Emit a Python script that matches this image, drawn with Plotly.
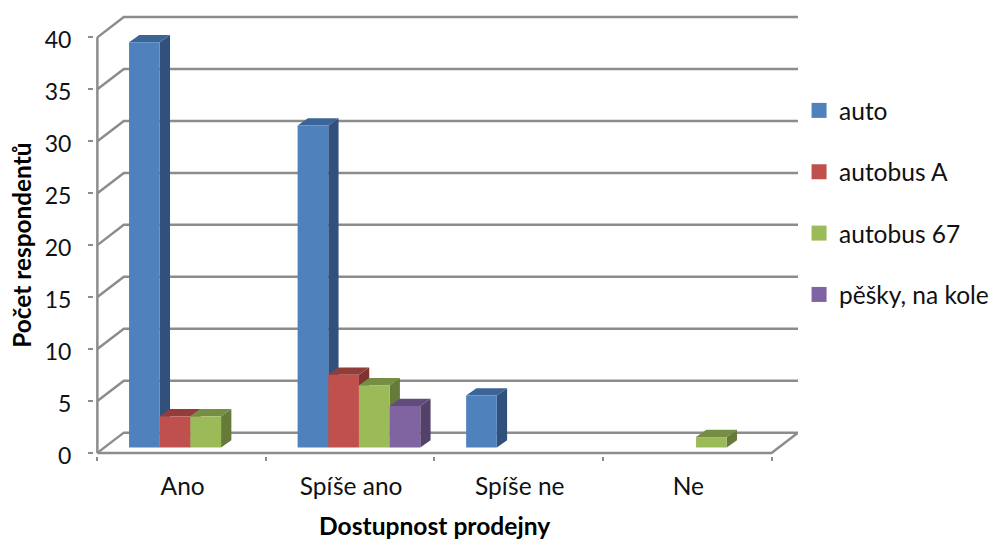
import plotly.graph_objects as go

categories = ["Ano", "Spíše ano", "Spíše ne", "Ne"]
auto = [39, 31, 5, 0]
autobus_a = [3, 7, 0, 0]
autobus_67 = [3, 6, 0, 1]
pesky = [0, 4, 0, 0]
y_ticks = [0, 5, 10, 15, 20, 25, 30, 35, 40]

series = [
    ("auto", auto, "#4F81BD", "#3C6597", "#31507C"),
    ("autobus A", autobus_a, "#C0504D", "#933D3B", "#7F3331"),
    ("autobus 67", autobus_67, "#9BBB59", "#768E44", "#667B3A"),
    ("pěšky, na kole", pesky, "#8064A2", "#614C7B", "#524168"),
]

FONT = "Lato"
GRID = "#8C8C8C"
WALL_DX, WALL_DY = 0.157, 1.95
BAR_START, BAR_W = 0.188, 0.182
BAR_BASE = 0.52
BAR_DX, BAR_DY = 0.061, 0.70
N = len(categories)

fig = go.Figure()


def line(xs, ys):
    fig.add_trace(go.Scatter(x=xs, y=ys, mode="lines", showlegend=False, hoverinfo="skip",
                             line=dict(color=GRID, width=2.5)))


for v in y_ticks:
    line([0, WALL_DX, N + WALL_DX], [v, v + WALL_DY, v + WALL_DY])
line([0, 0], [0, y_ticks[-1]])
line([0, N, N + WALL_DX], [0, 0, WALL_DY])

z = 1
for s_i, (name, vals, front, top, side) in enumerate(series):
    xs_top, ys_top, xs_side, ys_side, bx, by = [], [], [], [], [], []
    for c_i, v in enumerate(vals):
        if v <= 0:
            continue
        x0 = c_i + BAR_START + s_i * BAR_W
        x1 = x0 + BAR_W
        y0 = BAR_BASE
        y1 = BAR_BASE + v
        xs_top += [x0, x1, x1 + BAR_DX, x0 + BAR_DX, x0, None]
        ys_top += [y1, y1, y1 + BAR_DY, y1 + BAR_DY, y1, None]
        xs_side += [x1, x1 + BAR_DX, x1 + BAR_DX, x1, x1, None]
        ys_side += [y0, y0 + BAR_DY, y1 + BAR_DY, y1, y0, None]
        bx.append(x0)
        by.append(v)
    for xs, ys, col in ((xs_side, ys_side, side), (xs_top, ys_top, top)):
        fig.add_trace(go.Scatter(x=xs, y=ys, mode="lines", fill="toself", fillcolor=col,
                                 line=dict(width=0, color=col), showlegend=False,
                                 hoverinfo="skip", zorder=z))
    z += 1
    fig.add_trace(go.Bar(x=bx, y=by, base=BAR_BASE, width=BAR_W, offset=0, name=name,
                         marker=dict(color=front, line=dict(width=0)), showlegend=False, zorder=z))
    z += 1
    fig.add_trace(go.Scatter(x=[None], y=[None], mode="markers", name=name, legendgroup=name,
                             marker=dict(symbol="square", size=15, color=front)))

fig.add_annotation(text="<b>Dostupnost prodejny</b>", x=0.4843, xref="paper", y=-0.1567, yref="paper",
                   xanchor="center", yanchor="middle", showarrow=False,
                   font=dict(family=FONT, size=24.6, color="#000"))
fig.add_annotation(text="<b>Počet respondentů</b>", x=-0.1025, xref="paper", y=0.4774, yref="paper",
                   xanchor="center", yanchor="middle", textangle=-90, showarrow=False,
                   font=dict(family=FONT, size=24.4, color="#000"))

fig.update_layout(
    width=994, height=541, barmode="overlay", plot_bgcolor="white", paper_bgcolor="white",
    margin=dict(l=94.13, r=196.07, t=14.2, b=85.2, autoexpand=False),
    font=dict(family=FONT, size=24.5, color="#111"),
    xaxis=dict(range=[-0.02, N + WALL_DX], showgrid=False, zeroline=False, showline=False,
               tickvals=[i + 0.5 for i in range(N)], ticktext=categories, ticks="", ticklen=0,
               ticklabelstandoff=13, ticklabelshift=1,
               minor=dict(tickvals=list(range(N + 1)), ticks="outside", ticklen=4,
                          tickcolor=GRID, tickwidth=2, showgrid=False)),
    yaxis=dict(range=[-0.3, 40 + WALL_DY + 0.3], showgrid=False, zeroline=False, showline=False,
               tickvals=y_ticks, ticks="outside", ticklen=5, tickcolor=GRID, tickwidth=2,
               ticklabelstandoff=12, ticklabelshift=3, tickfont=dict(size=23)),
    legend=dict(x=1.0015, xanchor="left", y=0.5736, yanchor="middle", tracegroupgap=26.5,
                font=dict(family=FONT, size=24.5), bgcolor="rgba(0,0,0,0)"),
)
fig.write_html("out.html", config={"displayModeBar": False},
               post_script="document.body.style.margin='0';")
